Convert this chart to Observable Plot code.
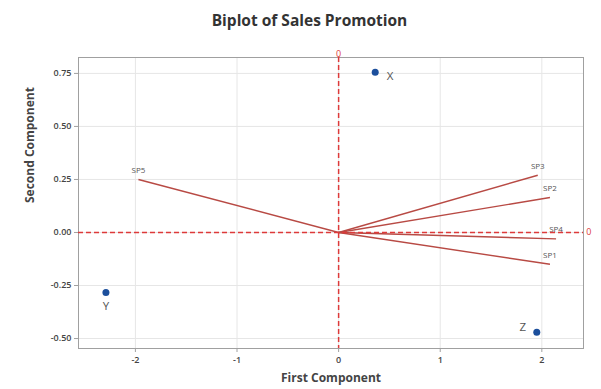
<!DOCTYPE html>
<html>
<head>
<meta charset="utf-8">
<script src="https://cdn.jsdelivr.net/npm/d3@7"></script>
<script src="https://cdn.jsdelivr.net/npm/@observablehq/plot@0.6"></script>
<style>
  body { margin: 0; background: #fff; font-family: "Open Sans", sans-serif; }
  #title { height: 38px; line-height: 40px; text-align: center; padding-left: 18px;
           font-weight: 700; font-size: 15.5px; color: #333; }
  svg { display: block; }
</style>
</head>
<body>
<div id="title">Biplot of Sales Promotion</div>
<div id="chart"></div>
<script>
// Observation scores (first and second principal components)
const pointNames = ["X", "Y", "Z"];
const pointX = [0.36, -2.29, 1.95];
const pointY = [0.755, -0.283, -0.47];

// Variable loading vectors
const vectorNames = ["SP1", "SP2", "SP3", "SP4", "SP5"];
const vectorX = [2.08, 2.08, 1.96, 2.14, -1.97];
const vectorY = [-0.15, 0.165, 0.27, -0.03, 0.25];

// Axis ticks
const xTicks = [-2, -1, 0, 1, 2];
const yTicks = [-0.5, -0.25, 0, 0.25, 0.5, 0.75];

const points = pointNames.map((name, i) => ({name, x: pointX[i], y: pointY[i]}));
const vectors = vectorNames.map((name, i) => ({name, x: vectorX[i], y: vectorY[i]}));

const pointLabelOffsets = {X: [15, 4], Y: [0, 14], Z: [-14, -5]};
const refRed = "#dd3a3a";

const chart = Plot.plot({
  width: 601,
  height: 351,
  marginTop: 19,
  marginBottom: 41,
  marginLeft: 78,
  marginRight: 18,
  style: {fontFamily: "Open Sans, sans-serif", fontSize: "9px", color: "#444", fontWeight: 600},
  x: {domain: [-2.56, 2.41], ticks: xTicks, tickFormat: d => String(d), label: null},
  y: {domain: [-0.547, 0.825], ticks: yTicks, tickFormat: d => d.toFixed(2), label: null},
  marks: [
    Plot.gridX(xTicks, {stroke: "#e6e6e6", strokeOpacity: 1}),
    Plot.gridY(yTicks, {stroke: "#e6e6e6", strokeOpacity: 1}),
    Plot.frame({stroke: "#a0a0a0"}),
    Plot.axisX(xTicks, {tickSize: 4, tickPadding: 4, stroke: "#a0a0a0", tickFormat: d => String(d)}),
    Plot.axisY(yTicks, {tickSize: 4, tickPadding: 3, stroke: "#a0a0a0", tickFormat: d => d.toFixed(2)}),
    // loading vectors from the origin
    Plot.link(vectors, {x1: 0, y1: 0, x2: "x", y2: "y", stroke: "#b84a44", strokeWidth: 1.4}),
    Plot.text(vectors, {x: "x", y: "y", text: "name", dy: -9, fontSize: 8, fill: "#555", fontWeight: 400}),
    // reference lines at zero
    Plot.ruleX([0], {stroke: refRed, strokeWidth: 1.5, strokeDasharray: "5,3"}),
    Plot.ruleY([0], {stroke: refRed, strokeWidth: 1.5, strokeDasharray: "5,3"}),
    Plot.text(["0"], {x: 0, frameAnchor: "top", dy: -7, fill: refRed, fontSize: 9, fontWeight: 400}),
    Plot.text(["0"], {y: 0, frameAnchor: "right", dx: 8, fill: refRed, fontSize: 9, fontWeight: 400}),
    // observation scores
    Plot.dot(points, {x: "x", y: "y", r: 3.5, fill: "#1c4f9c", stroke: "none"}),
    ...points.map(p => Plot.text([p], {
      x: "x", y: "y", text: "name",
      dx: pointLabelOffsets[p.name][0], dy: pointLabelOffsets[p.name][1],
      fontSize: 11.5, fill: "#555", fontWeight: 400
    })),
    // axis titles
    Plot.text(["First Component"], {frameAnchor: "bottom", dy: 33, fontSize: 12, fontWeight: 700, fill: "#444"}),
    Plot.text(["Second Component"], {frameAnchor: "left", dx: -48, rotate: -90, fontSize: 12, fontWeight: 700, fill: "#444"})
  ]
});
document.getElementById("chart").appendChild(chart);
</script>
</body>
</html>
